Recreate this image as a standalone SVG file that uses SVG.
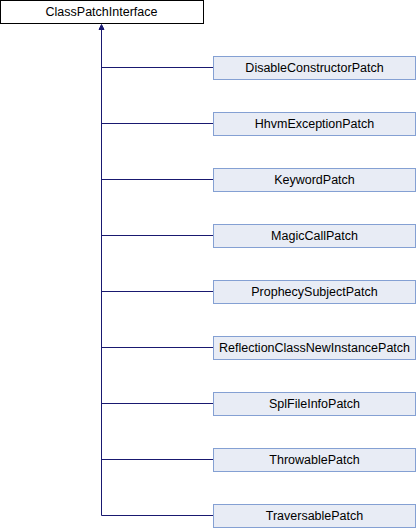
<svg xmlns="http://www.w3.org/2000/svg" width="416" height="528" viewBox="0 0 416 528">
<style>
.bg{fill:#ffffff}
.base rect{fill:#ffffff;stroke:#000000;stroke-width:1}
.node rect{fill:#e8ecf5;stroke:#84a0d3;stroke-width:1}
text{font-family:"Liberation Sans",Arial,sans-serif;font-size:12.5px;fill:#000000;text-anchor:middle}
.edges path{fill:none;stroke:#191970;stroke-width:1}
.edges polygon{fill:#191970;stroke:#191970;stroke-width:1}
</style>
<rect class="bg" x="0" y="0" width="416" height="528"/>
<g class="edges" id="connectors">
<path d="M101.5 29 V515.5"/>
<path d="M101.5 67.5 H213.5"/>
<path d="M101.5 123.5 H213.5"/>
<path d="M101.5 179.5 H213.5"/>
<path d="M101.5 235.5 H213.5"/>
<path d="M101.5 291.5 H213.5"/>
<path d="M101.5 347.5 H213.5"/>
<path d="M101.5 403.5 H213.5"/>
<path d="M101.5 459.5 H213.5"/>
<path d="M101.5 515.5 H213.5"/>
<polygon points="101.5,24.5 99,29.5 104,29.5"/>
</g>
<g class="base" id="ClassPatchInterface"><rect x="0.5" y="0.5" width="203" height="23"/><text x="101.5" y="15.5">ClassPatchInterface</text></g>
<g class="node" id="DisableConstructorPatch"><rect x="213.5" y="56.5" width="202" height="23"/><text x="314.5" y="71.5">DisableConstructorPatch</text></g>
<g class="node" id="HhvmExceptionPatch"><rect x="213.5" y="112.5" width="202" height="23"/><text x="314.5" y="127.5">HhvmExceptionPatch</text></g>
<g class="node" id="KeywordPatch"><rect x="213.5" y="168.5" width="202" height="23"/><text x="314.5" y="183.5">KeywordPatch</text></g>
<g class="node" id="MagicCallPatch"><rect x="213.5" y="224.5" width="202" height="23"/><text x="314.5" y="239.5">MagicCallPatch</text></g>
<g class="node" id="ProphecySubjectPatch"><rect x="213.5" y="280.5" width="202" height="23"/><text x="314.5" y="295.5">ProphecySubjectPatch</text></g>
<g class="node" id="ReflectionClassNewInstancePatch"><rect x="213.5" y="336.5" width="202" height="23"/><text x="314.5" y="351.5">ReflectionClassNewInstancePatch</text></g>
<g class="node" id="SplFileInfoPatch"><rect x="213.5" y="392.5" width="202" height="23"/><text x="314.5" y="407.5">SplFileInfoPatch</text></g>
<g class="node" id="ThrowablePatch"><rect x="213.5" y="448.5" width="202" height="23"/><text x="314.5" y="463.5">ThrowablePatch</text></g>
<g class="node" id="TraversablePatch"><rect x="213.5" y="504.5" width="202" height="23"/><text x="314.5" y="519.5">TraversablePatch</text></g>
</svg>
